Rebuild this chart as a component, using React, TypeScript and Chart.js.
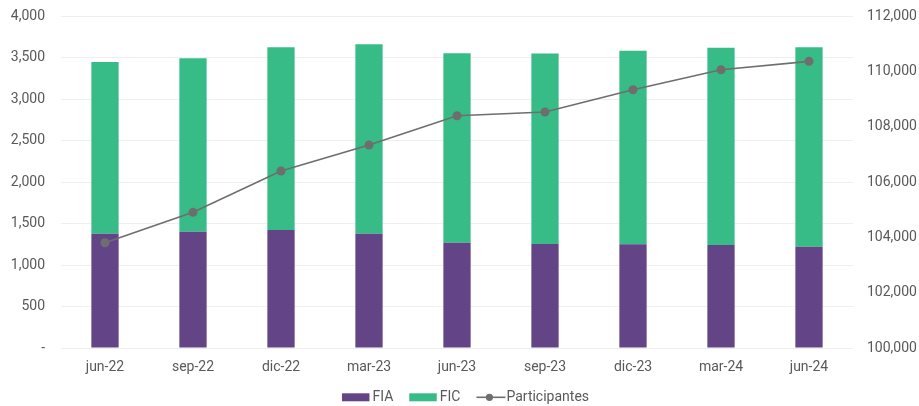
import React, { useEffect, useRef } from "react";
import { Chart, registerables } from "chart.js";

Chart.register(...registerables);

const categories = ["jun-22", "sep-22", "dic-22", "mar-23", "jun-23", "sep-23", "dic-23", "mar-24", "jun-24"];
const fiaValues = [1377, 1401, 1422, 1377, 1269, 1253, 1249, 1241, 1221];
const ficValues = [2069, 2089, 2201, 2284, 2282, 2294, 2333, 2377, 2402];
const participantesValues = [103806, 104904, 106397, 107337, 108396, 108529, 109335, 110058, 110361];

const FONT = "Roboto, 'Noto Sans', sans-serif";
const TEXT = "#595959";
const PURPLE = "#634587";
const GREEN = "#37BC87";
const LINE = "#6e6e6e";

const legendPlugin = {
  id: "customLegend",
  afterDraw(chart: any) {
    const ctx = chart.ctx as CanvasRenderingContext2D;
    ctx.save();
    ctx.font = `14px ${FONT}`;
    ctx.textBaseline = "middle";
    const y = 397.3;
    const items = [
      { label: "FIA", type: "box", color: PURPLE },
      { label: "FIC", type: "box", color: GREEN },
      { label: "Participantes", type: "line", color: LINE },
    ];
    const widths = items.map((it) =>
      it.type === "box" ? 27.5 + 3 + ctx.measureText(it.label).width : 29 + 1 + ctx.measureText(it.label).width
    );
    const gapItem = 16;
    const total = widths.reduce((a, b) => a + b, 0) + gapItem * (items.length - 1);
    let x = chart.width / 2 - total / 2 + 6;
    items.forEach((it, i) => {
      ctx.textAlign = "left";
      if (it.type === "box") {
        ctx.fillStyle = it.color;
        ctx.fillRect(x, y - 4, 27.5, 8);
        ctx.fillStyle = TEXT;
        ctx.fillText(it.label, x + 30.5, y);
      } else {
        ctx.strokeStyle = it.color;
        ctx.lineWidth = 1.6;
        ctx.beginPath();
        ctx.moveTo(x, y);
        ctx.lineTo(x + 29, y);
        ctx.stroke();
        ctx.fillStyle = it.color;
        ctx.beginPath();
        ctx.arc(x + 13, y, 3.6, 0, Math.PI * 2);
        ctx.fill();
        ctx.fillStyle = TEXT;
        ctx.fillText(it.label, x + 30, y);
      }
      x += widths[i] + gapItem;
    });
    ctx.restore();
  },
};

export default function App() {
  const canvasRef = useRef<HTMLCanvasElement | null>(null);

  useEffect(() => {
    if (!canvasRef.current) return;
    const chart = new Chart(canvasRef.current, {
      type: "bar",
      data: {
        labels: categories,
        datasets: [
          {
            type: "line",
            label: "Participantes",
            data: participantesValues,
            yAxisID: "y1",
            borderColor: LINE,
            backgroundColor: LINE,
            borderWidth: 1.6,
            pointRadius: 4.5,
            pointBackgroundColor: LINE,
            pointBorderWidth: 0,
            tension: 0,
            order: 0,
          } as any,
          {
            type: "bar",
            label: "FIA",
            data: fiaValues,
            backgroundColor: PURPLE,
            yAxisID: "y",
            stack: "s",
            barPercentage: 0.62,
            categoryPercentage: 0.5,
            order: 1,
          },
          {
            type: "bar",
            label: "FIC",
            data: ficValues,
            backgroundColor: GREEN,
            yAxisID: "y",
            stack: "s",
            barPercentage: 0.62,
            categoryPercentage: 0.5,
            order: 1,
          },
        ],
      },
      options: {
        animation: false,
        responsive: false,
        maintainAspectRatio: false,
        layout: { padding: { top: 16, bottom: 28, left: 0, right: 0 } },
        plugins: {
          legend: { display: false },
          tooltip: { enabled: false },
        },
        scales: {
          x: {
            stacked: true,
            grid: { display: false, drawTicks: false },
            border: { display: false },
            ticks: { color: TEXT, font: { family: FONT, size: 14 }, padding: 11, maxRotation: 0 },
            afterFit(scale: any) {
              scale.height = 30;
            },
          },
          y: {
            stacked: true,
            position: "left",
            min: 0,
            max: 4000,
            grid: { color: "#efefef", lineWidth: 1, drawTicks: false },
            border: { display: false },
            ticks: {
              stepSize: 500,
              color: TEXT,
              font: { family: FONT, size: 14 },
              padding: 16,
              callback: (v: any) => (Number(v) === 0 ? "-" : Number(v).toLocaleString("en-US")),
            },
            afterFit(scale: any) {
              scale.width = 61;
              scale.paddingTop = 0;
              scale.paddingBottom = 0;
            },
          },
          y1: {
            position: "right",
            min: 100000,
            max: 112000,
            grid: { display: false, drawTicks: false },
            border: { display: false },
            ticks: {
              stepSize: 2000,
              color: TEXT,
              font: { family: FONT, size: 14 },
              padding: 14,
              callback: (v: any) => Number(v).toLocaleString("en-US"),
            },
            afterFit(scale: any) {
              scale.width = 66;
              scale.paddingTop = 0;
              scale.paddingBottom = 0;
            },
          },
        },
      },
      plugins: [legendPlugin],
    });
    return () => chart.destroy();
  }, []);

  return (
    <div style={{ position: "fixed", left: 0, top: 0, width: 919, height: 406, background: "#fff" }}>
      <canvas ref={canvasRef} width={919} height={406} style={{ width: 919, height: 406 }} />
    </div>
  );
}
